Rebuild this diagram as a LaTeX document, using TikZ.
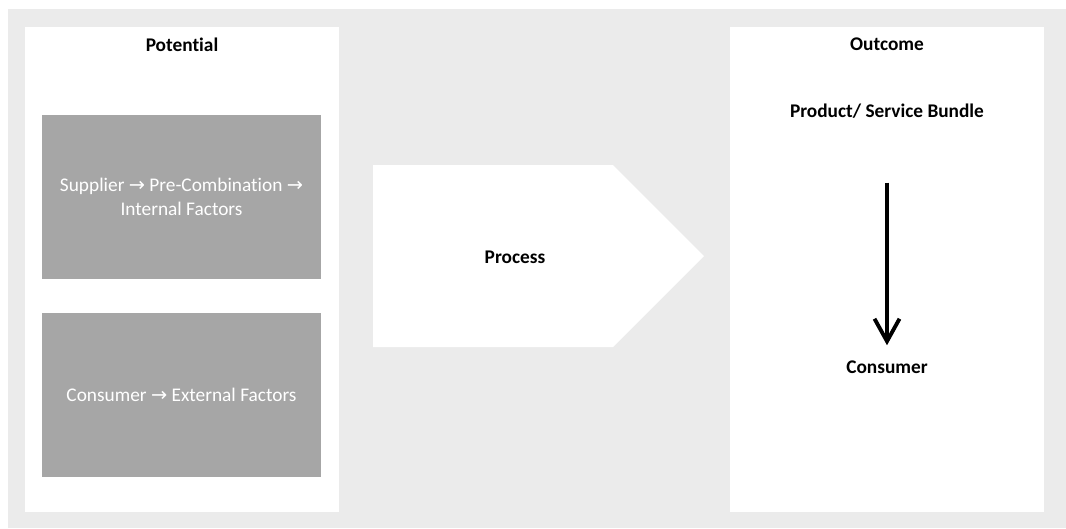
\documentclass[tikz,border=0pt]{standalone}
\usepackage{fontspec}
\setmainfont{Carlito}[Ligatures=NoCommon]
\newfontfamily\arrowfont{DejaVu Sans}
\usepackage{xcolor}
\usetikzlibrary{positioning, arrows.meta, calc}

\newcommand{\rarr}{{\arrowfont →}}
\definecolor{backgray}{HTML}{EBEBEB}
\definecolor{boxgray}{HTML}{A6A6A6}

\begin{document}
\begin{tikzpicture}[x=0.02cm, y=-0.02cm, font=\fontsize{11pt}{13.5pt}\selectfont]
    % Styles
    \tikzstyle{panel} = [rectangle, fill=white, minimum width=6.28cm, minimum height=9.7cm, inner sep=0pt]
    \tikzstyle{factor} = [rectangle, fill=boxgray, text=white, minimum width=5.58cm, minimum height=3.3cm, align=center, inner sep=0pt]
    \tikzstyle{title} = [font=\fontsize{11pt}{13.5pt}\selectfont\bfseries, inner sep=0pt]
    \tikzstyle{arrow} = [line width=2.2pt, -{Straight Barb[length=4.5mm, width=5mm]}]

    % Background
    \useasboundingbox (0,0) rectangle (1066,528);
    \fill[backgray] (8,9) rectangle (1066,528);

    % Potential
    \node[panel] (potential box) at (182,269.5) {};
    \node[title] (potential) at (182,45) {Potential};
    \node[factor] (internal) at (181.5,197) {Supplier \rarr{} Pre-Combination \rarr\\Internal Factors};
    \node[factor] (external) at (181.5,395) {Consumer \rarr{} External Factors};

    % Process
    \fill[white] (373,165) -- (613,165) -- (704,256) -- (613,347) -- (373,347) -- cycle;
    \node[title] (process) at (515,257) {Process};

    % Outcome
    \node[panel] (outcome box) at (887,269.5) {};
    \node[title] (outcome) at (887,44) {Outcome};
    \node[title] (bundle) at (887,111) {Product/ Service Bundle};
    \node[title] (consumer) at (887,367) {Consumer};

    % Connections
    \draw[arrow, shorten <=1.28cm, shorten >=0.3cm] (bundle) -- (consumer);

\end{tikzpicture}
\end{document}
